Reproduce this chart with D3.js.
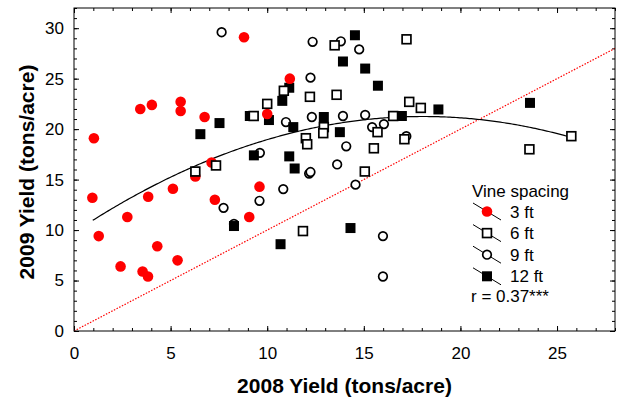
<!DOCTYPE html>
<html lang="en">
<head>
    <meta charset="UTF-8">
    <title>Yield 2008 vs 2009</title>
    <script src="https://d3js.org/d3.v7.min.js"></script>
    <style>
        body {
            margin: 0;
            background-color: #ffffff;
            font-family: 'Liberation Sans', Arial, sans-serif;
        }
        svg {
            display: block;
        }
        .tick-label {
            font-size: 17px;
            fill: #000;
        }
        .axis-title {
            font-size: 21px;
            font-weight: bold;
            fill: #000;
        }
        .legend text {
            font-size: 17px;
            fill: #000;
        }
    </style>
</head>
<body>
    <svg></svg>

    <script>
        // [2008 yield, 2009 yield] per vine spacing
        const spacing3 = [
            [1.03, 19.1], [3.43, 22.0], [4.03, 22.4], [5.52, 22.7], [5.52, 21.8],
            [6.76, 21.2], [8.8, 29.1], [10.0, 21.5], [11.17, 25.0], [7.12, 16.7],
            [6.28, 15.3], [0.95, 13.2], [1.28, 9.4], [2.76, 11.3], [3.84, 13.3],
            [5.12, 14.1], [4.31, 8.4], [2.41, 6.4], [3.55, 5.9], [3.83, 5.4],
            [5.36, 7.0], [7.29, 13.0], [9.6, 14.3], [9.07, 11.3]
        ];
        const spacing6 = [
            [9.3, 21.3], [10.0, 22.5], [7.35, 16.4], [6.28, 15.8], [13.49, 28.3],
            [17.21, 28.9], [10.86, 23.8], [12.21, 23.2], [13.59, 23.4], [16.52, 21.3],
            [17.35, 22.7], [17.95, 22.1], [12.93, 20.2], [12.9, 19.6], [15.71, 19.7],
            [12.0, 19.1], [12.07, 18.5], [15.52, 18.1], [17.1, 19.0], [15.05, 15.8],
            [11.85, 9.9], [23.57, 18.0], [25.74, 19.3]
        ];
        const spacing9 = [
            [7.64, 29.6], [9.62, 17.65], [12.35, 28.65], [13.81, 28.7], [14.76, 27.9],
            [12.24, 25.1], [10.97, 20.7], [12.31, 21.2], [13.92, 21.3], [15.07, 21.4],
            [15.43, 20.2], [16.04, 20.5], [17.2, 19.3], [14.09, 18.3], [13.62, 16.5],
            [12.17, 15.6], [12.24, 15.75], [7.74, 12.2], [8.28, 10.6], [9.6, 12.9],
            [10.83, 14.06], [14.57, 14.5], [15.99, 9.4], [15.99, 5.4]
        ];
        const spacing12 = [
            [7.53, 20.6], [6.54, 19.5], [9.1, 21.3], [10.09, 20.9], [9.31, 17.4],
            [14.54, 29.3], [13.92, 26.7], [15.07, 26.0], [15.73, 24.3], [11.14, 24.1],
            [10.78, 22.8], [11.35, 20.2], [12.93, 21.2], [16.97, 21.3], [13.76, 19.7],
            [11.14, 17.3], [11.42, 16.1], [8.28, 10.4], [10.69, 8.6], [14.31, 10.2],
            [18.86, 21.95], [23.6, 22.6]
        ];

        // quadratic fit y = a + b*x + c*x^2 over the data range
        const fitCoef = [9.76, 1.272, -0.0352];
        const fitRange = [0.97, 25.74];

        const legendLabels = ["3 ft", "6 ft", "9 ft", "12 ft"];
        const xTickLabels = [0, 5, 10, 15, 20, 25];
        const yTickLabels = [0, 5, 10, 15, 20, 25, 30];

        const W = 619, H = 397;
        const margin = {top: 8, right: 4, bottom: 66, left: 74};

        const svg = d3.select("svg").attr("width", W).attr("height", H);
        const g = svg.append("g").attr("transform", `translate(${margin.left},${margin.top})`);
        const iw = W - margin.left - margin.right,
              ih = H - margin.top - margin.bottom;

        const x = d3.scaleLinear().domain([0, 28]).range([0, iw]);
        const y = d3.scaleLinear().domain([0, 32]).range([ih, 0]);

        // minor/major inward ticks on all four sides
        function ticks(axisFn, scale, vals, size, transform) {
            const a = g.append("g").attr("transform", transform)
                .call(axisFn(scale).tickValues(vals).tickSize(-size).tickFormat(""));
            a.select(".domain").remove();
            a.selectAll("line").attr("stroke", "#000").attr("stroke-width", 1);
            return a;
        }
        const xMinor = d3.range(0, 29), yMinor = d3.range(0, 33);
        ticks(d3.axisBottom, x, xMinor, 3, `translate(0,${ih})`);
        ticks(d3.axisTop, x, xMinor, 3, "translate(0,0)");
        ticks(d3.axisLeft, y, yMinor, 3, "translate(0,0)");
        ticks(d3.axisRight, y, yMinor, 3, `translate(${iw},0)`);
        ticks(d3.axisBottom, x, xTickLabels, 5, `translate(0,${ih})`);
        ticks(d3.axisTop, x, xTickLabels, 5, "translate(0,0)");
        ticks(d3.axisLeft, y, yTickLabels, 5, "translate(0,0)");
        ticks(d3.axisRight, y, yTickLabels, 5, `translate(${iw},0)`);

        // tick labels
        const xa = g.append("g").attr("transform", `translate(0,${ih})`)
            .call(d3.axisBottom(x).tickValues(xTickLabels).tickSize(0).tickPadding(16));
        xa.select(".domain").remove();
        xa.selectAll("text").attr("class", "tick-label").attr("font-family", null).attr("font-size", null);

        const ya = g.append("g")
            .call(d3.axisLeft(y).tickValues(yTickLabels).tickSize(0).tickPadding(10));
        ya.select(".domain").remove();
        ya.selectAll("text").attr("class", "tick-label").attr("font-family", null).attr("font-size", null);

        // 1:1 line
        const clipId = "plotclip";
        g.append("clipPath").attr("id", clipId)
            .append("rect").attr("width", iw).attr("height", ih);

        g.append("line")
            .attr("clip-path", `url(#${clipId})`)
            .attr("x1", x(0)).attr("y1", y(0))
            .attr("x2", x(28)).attr("y2", y(28))
            .attr("stroke", "#ff0000")
            .attr("stroke-width", 1.2)
            .attr("stroke-dasharray", "1.5,1.5");

        // fitted curve
        const fit = v => fitCoef[0] + fitCoef[1] * v + fitCoef[2] * v * v;
        const fx = d3.range(fitRange[0], fitRange[1], 0.1).concat([fitRange[1]]);
        g.append("path")
            .datum(fx)
            .attr("fill", "none")
            .attr("stroke", "#000")
            .attr("stroke-width", 1.2)
            .attr("d", d3.line().x(d => x(d)).y(d => y(fit(d))));

        // symbols
        const sq = d3.symbol().type(d3.symbolSquare);
        const styles = {
            s3:  {data: spacing3,  draw: sel => sel.append("circle").attr("r", 5.3).attr("fill", "#ff0000")},
            s6:  {data: spacing6,  draw: sel => sel.append("rect").attr("x", -4.4).attr("y", -4.4).attr("width", 8.8).attr("height", 8.8)
                                                   .attr("fill", "#fff").attr("stroke", "#000").attr("stroke-width", 1.7)},
            s9:  {data: spacing9,  draw: sel => sel.append("circle").attr("r", 4.3)
                                                   .attr("fill", "#fff").attr("stroke", "#000").attr("stroke-width", 1.7)},
            s12: {data: spacing12, draw: sel => sel.append("rect").attr("x", -5).attr("y", -5).attr("width", 10).attr("height", 10)
                                                   .attr("fill", "#000")}
        };

        ["s9", "s12", "s3", "s6"].forEach(k => {
            const pts = g.append("g").selectAll("g")
                .data(styles[k].data)
                .join("g")
                .attr("transform", d => `translate(${x(d[0])},${y(d[1])})`);
            styles[k].draw(pts);
        });

        // frame
        g.append("rect")
            .attr("width", iw).attr("height", ih)
            .attr("fill", "none").attr("stroke", "#000").attr("stroke-width", 1);

        // legend
        const lg = svg.append("g").attr("class", "legend");
        lg.append("text").attr("x", 472).attr("y", 197).text("Vine spacing");
        const legendKeys = ["s3", "s6", "s9", "s12"];
        legendKeys.forEach((k, i) => {
            const cy = 211.5 + i * 21.6;
            const row = lg.append("g").attr("transform", `translate(487,${cy})`);
            row.append("line")
                .attr("x1", -14).attr("y1", -8.5).attr("x2", 14).attr("y2", 8.5)
                .attr("stroke", "#000").attr("stroke-width", 1);
            styles[k].draw(row);
            lg.append("text").attr("x", 510).attr("y", cy + 6).text(legendLabels[i]);
        });
        lg.append("text").attr("x", 471).attr("y", 302).text("r = 0.37***");

        // axis titles
        svg.append("text")
            .attr("class", "axis-title")
            .attr("x", margin.left + iw * 0.5 + (344.5 - margin.left - iw * 0.5))
            .attr("y", 393)
            .attr("text-anchor", "middle")
            .text("2008 Yield (tons/acre)");

        svg.append("text")
            .attr("class", "axis-title")
            .attr("transform", "translate(34,172) rotate(-90)")
            .attr("text-anchor", "middle")
            .text("2009 Yield (tons/acre)");
    </script>
</body>
</html>
